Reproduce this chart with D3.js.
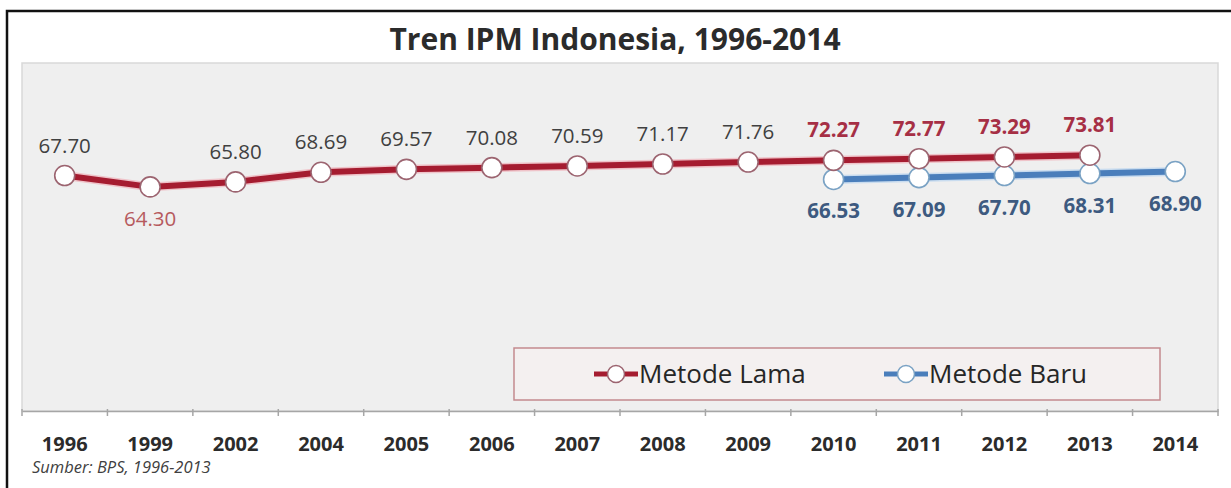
<!DOCTYPE html>
<html>
<head>
<meta charset="utf-8">
<script src="https://cdn.jsdelivr.net/npm/d3@7"></script>
<style>
  body { margin: 0; background: #fff; }
  svg { display: block; font-family: "Open Sans", sans-serif; }
</style>
</head>
<body>
<svg></svg>
<script>
const wSvg = 1231, hSvg = 488;

const years = ["1996", "1999", "2002", "2004", "2005", "2006", "2007", "2008", "2009", "2010", "2011", "2012", "2013", "2014"];
const metodeLama = [67.70, 64.30, 65.80, 68.69, 69.57, 70.08, 70.59, 71.17, 71.76, 72.27, 72.77, 73.29, 73.81, null];
const metodeBaru = [null, null, null, null, null, null, null, null, null, 66.53, 67.09, 67.70, 68.31, 68.90];
const seriesNames = ["Metode Lama", "Metode Baru"];

const plot = { left: 22, right: 1218, top: 63, bottom: 411 };

const svg = d3.select("svg")
    .attr("width", wSvg)
    .attr("height", hSvg)
;

// outer frame (top + left only visible)
svg.append("path")
    .attr("d", `M7,488 V11 H1231`)
    .attr("fill", "none")
    .attr("stroke", "#111")
    .attr("stroke-width", 2.5)
;

svg.append("rect")
    .attr("x", plot.left)
    .attr("y", plot.top)
    .attr("width", plot.right - plot.left)
    .attr("height", plot.bottom - plot.top)
    .attr("fill", "#efefef")
    .attr("stroke", "#d9d9d9")
    .attr("stroke-width", 1.5)
;

svg.append("text")
    .attr("x", 615)
    .attr("y", 50)
    .attr("text-anchor", "middle")
    .attr("font-size", 30)
    .attr("font-weight", "bold")
    .attr("fill", "#2b2b2b")
    .text("Tren IPM Indonesia, 1996-2014")
;

const x = d3.scaleBand()
    .domain(years)
    .range([plot.left, plot.right]);

const y = d3.scaleLinear()
    .domain([0, 100])
    .range([401, 68]);

// x axis
const xAxis = svg.append("g")
    .attr("transform", `translate(0, ${plot.bottom})`)
    .call(d3.axisBottom(x).tickSize(0).tickPadding(26));

xAxis.select(".domain").attr("stroke", "#a6a6a6").attr("stroke-width", 1.5);
xAxis.selectAll("text")
    .attr("font-family", "Open Sans, sans-serif")
    .attr("font-size", 20)
    .attr("font-weight", "bold")
    .attr("fill", "#2b2b2b");

// category boundary ticks
const bounds = years.map(d => x(d)).concat([x.range()[1]]);
xAxis.selectAll("line.bound")
    .data(bounds)
    .enter()
    .append("line")
    .classed("bound", true)
    .attr("x1", d => d)
    .attr("x2", d => d)
    .attr("y1", -2)
    .attr("y2", 5)
    .attr("stroke", "#a6a6a6")
    .attr("stroke-width", 1.5)
;

const cx = d => x(d.year) + x.bandwidth() / 2;

function toPoints(values) {
    return years.map((yr, i) => ({ year: yr, value: values[i], i: i }))
        .filter(d => d.value !== null);
}

const lamaPts = toPoints(metodeLama);
const baruPts = toPoints(metodeBaru);

const line = d3.line().x(cx).y(d => y(d.value));

function drawSeries(pts, color, halo, markerStroke) {
    const g = svg.append("g");
    g.append("path")
        .datum(pts)
        .attr("d", line)
        .attr("fill", "none")
        .attr("stroke", halo)
        .attr("stroke-width", 9)
        .attr("stroke-linejoin", "round");
    g.append("path")
        .datum(pts)
        .attr("d", line)
        .attr("fill", "none")
        .attr("stroke", color)
        .attr("stroke-width", 6)
        .attr("stroke-linejoin", "round");
    g.selectAll("circle")
        .data(pts)
        .enter()
        .append("circle")
        .attr("cx", cx)
        .attr("cy", d => y(d.value))
        .attr("r", 10)
        .attr("fill", "#fff")
        .attr("stroke", markerStroke)
        .attr("stroke-width", 1.6);
    return g;
}

drawSeries(baruPts, "#4a7ebb", "#c9dcef", "#7aa2c4");
drawSeries(lamaPts, "#a51c30", "#efc3c9", "#9c6470");

// data labels
svg.append("g").selectAll("text")
    .data(lamaPts)
    .enter()
    .append("text")
    .attr("x", cx)
    .attr("y", d => d.i === 1 ? y(d.value) + 39 : y(d.value) - 23)
    .attr("text-anchor", "middle")
    .attr("font-size", 20.5)
    .attr("font-weight", d => d.i >= 9 ? "bold" : "normal")
    .attr("fill", d => d.i === 1 ? "#b65a5e" : d.i >= 9 ? "#a62f45" : "#404040")
    .text(d => d.value.toFixed(2))
;

svg.append("g").selectAll("text")
    .data(baruPts)
    .enter()
    .append("text")
    .attr("x", cx)
    .attr("y", d => y(d.value) + 39)
    .attr("text-anchor", "middle")
    .attr("font-size", 20.5)
    .attr("font-weight", "bold")
    .attr("fill", "#3d5a80")
    .text(d => d.value.toFixed(2))
;

// legend
const legend = svg.append("g");
legend.append("rect")
    .attr("x", 514)
    .attr("y", 348)
    .attr("width", 646)
    .attr("height", 52)
    .attr("fill", "#f4f0f0")
    .attr("stroke", "#c48a8f")
    .attr("stroke-width", 1.5)
;

const legendItems = [
    { name: seriesNames[0], x0: 594, color: "#a51c30", stroke: "#9c6470" },
    { name: seriesNames[1], x0: 884, color: "#4a7ebb", stroke: "#7aa2c4" }
];

const li = legend.selectAll("g.item")
    .data(legendItems)
    .enter()
    .append("g")
    .classed("item", true)
    .attr("transform", d => `translate(${d.x0}, 374)`);

li.append("line")
    .attr("x1", 0).attr("x2", 44)
    .attr("stroke", d => d.color)
    .attr("stroke-width", 5);
li.append("circle")
    .attr("cx", 22)
    .attr("r", 8.5)
    .attr("fill", "#fff")
    .attr("stroke", d => d.stroke)
    .attr("stroke-width", 1.5);
li.append("text")
    .attr("x", 45)
    .attr("y", 9)
    .attr("font-size", 26)
    .attr("fill", "#262626")
    .text(d => d.name);

svg.append("text")
    .attr("x", 32)
    .attr("y", 473)
    .attr("font-size", 16.5)
    .attr("font-style", "italic")
    .attr("fill", "#404040")
    .text("Sumber: BPS, 1996-2013")
;
</script>
</body>
</html>
